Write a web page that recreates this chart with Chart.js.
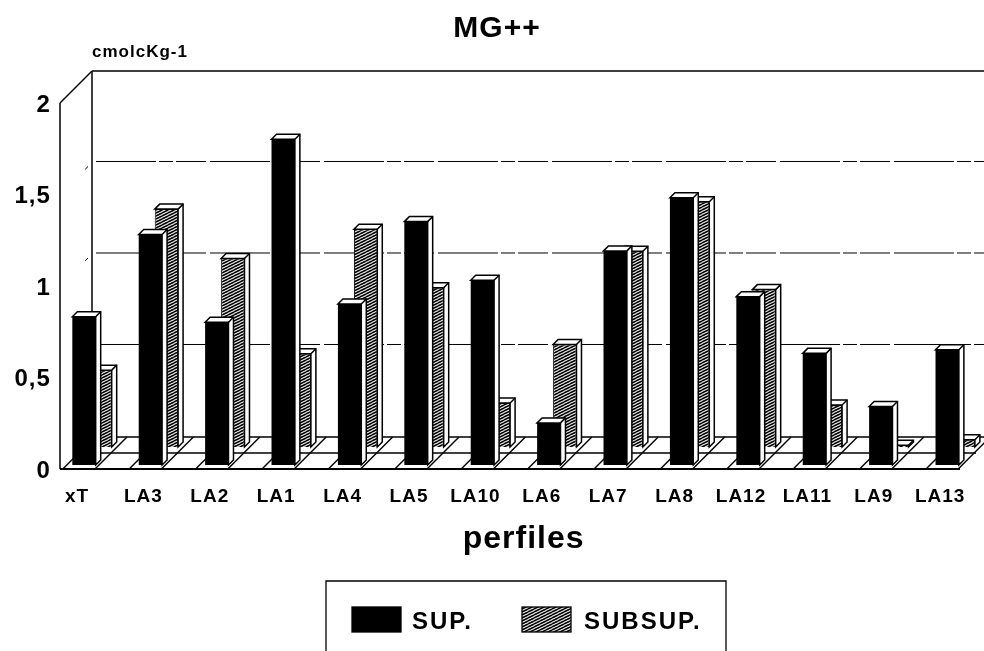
<!DOCTYPE html>
<html>
<head>
<meta charset="utf-8">
<title>MG++</title>
<style>
html, body { margin: 0; padding: 0; background: #fff; overflow: hidden; }
#wrap { width: 984px; height: 651px; overflow: hidden; }
canvas { display: block; }
</style>
<script src="https://cdn.jsdelivr.net/npm/chart.js@4/dist/chart.umd.js"></script>
</head>
<body>
<div id="wrap"><canvas id="mg-chart" width="994" height="651"></canvas></div>
<script>
const perfiles = ['xT', 'LA3', 'LA2', 'LA1', 'LA4', 'LA5', 'LA10', 'LA6', 'LA7', 'LA8', 'LA12', 'LA11', 'LA9', 'LA13'];
const sup = [0.81, 1.26, 0.78, 1.78, 0.88, 1.33, 1.01, 0.23, 1.17, 1.46, 0.92, 0.61, 0.32, 0.63];
const subsup = [0.42, 1.30, 1.03, 0.51, 1.19, 0.87, 0.24, 0.56, 1.07, 1.34, 0.86, 0.23, 0.01, 0.04];
const yTicks = [0, 0.5, 1, 1.5, 2];

const FONT = '"Liberation Sans", Arial, sans-serif';
const DEPTH = 32;       // offset of the back wall
const BAR_DX = 5;
const BAR_DY = 5;

// diagonal hatch for the subsoil bars
function makeHatch() {
    const c = document.createElement('canvas');
    c.width = 6;
    c.height = 3;
    const g = c.getContext('2d');
    g.fillStyle = '#fff';
    g.fillRect(0, 0, 6, 3);
    g.strokeStyle = '#000';
    g.lineWidth = 1.6;
    for (let i = -1; i < 2; i++) {
        g.beginPath();
        g.moveTo(0, 3 * i + 3);
        g.lineTo(6, 3 * i);
        g.stroke();
    }
    return g.createPattern(c, 'repeat');
}
const hatch = makeHatch();

function line(ctx, x1, y1, x2, y2) {
    ctx.beginPath();
    ctx.moveTo(x1, y1);
    ctx.lineTo(x2, y2);
    ctx.stroke();
}

const box3d = {
    id: 'box3d',
    beforeDraw(chart) {
        chart.ctx.letterSpacing = '1px';
    },
    beforeDatasetsDraw(chart) {
        const ctx = chart.ctx;
        const y = chart.scales.y;
        const x = chart.scales.x;
        const front = chart.chartArea.bottom;
        const top = y.getPixelForValue(2) + 4;
        const left = 60;
        const right = 960;
        ctx.save();
        ctx.strokeStyle = '#000';
        ctx.lineWidth = 1.5;

        // walls
        line(ctx, left, top, left + DEPTH, top - DEPTH);
        line(ctx, left, top, left, front);
        line(ctx, left + DEPTH, top - DEPTH, left + DEPTH, front - DEPTH);
        line(ctx, left + DEPTH, top - DEPTH, chart.width, top - DEPTH);

        // floor
        line(ctx, left + DEPTH, front - DEPTH, chart.width, front - DEPTH);
        line(ctx, left + DEPTH / 2, front - DEPTH / 2, right + DEPTH / 2, front - DEPTH / 2);
        ctx.lineWidth = 1.8;
        line(ctx, left, front, right, front);
        ctx.lineWidth = 1.4;
        perfiles.forEach(function (p, i) {
            const c = x.getPixelForValue(i);
            const step = x.getPixelForValue(1) - x.getPixelForValue(0);
            [c - step / 2 + 4, c + 3].forEach(function (px) {
                if (px < right + 2) {
                    line(ctx, px, front, px + DEPTH, front - DEPTH);
                }
            });
        });

        // grid on the back wall, broken like the scan
        ctx.lineWidth = 1;
        ctx.setLineDash([60, 3, 14, 3, 30, 4]);
        yTicks.slice(1, -1).forEach(function (v) {
            const py = y.getPixelForValue(v) + 3 - DEPTH;
            line(ctx, left + DEPTH + 4, py, chart.width, py);
        });
        ctx.setLineDash([4, 60]);
        yTicks.slice(1, -1).forEach(function (v) {
            const py = y.getPixelForValue(v) + 4;
            line(ctx, left + DEPTH - 4, py - DEPTH + 4, left + 4, py - 4);
        });
        ctx.restore();
    },
    beforeDatasetDraw(chart, args) {
        const ctx = chart.ctx;
        const meta = chart.getDatasetMeta(args.index);
        ctx.save();
        ctx.strokeStyle = '#000';
        ctx.fillStyle = '#fff';
        ctx.lineWidth = 1.5;
        meta.data.forEach(function (bar) {
            const l = bar.x - bar.width / 2;
            const r = bar.x + bar.width / 2;
            ctx.beginPath();
            ctx.moveTo(l, bar.y);
            ctx.lineTo(l + BAR_DX, bar.y - BAR_DY);
            ctx.lineTo(r + BAR_DX, bar.y - BAR_DY);
            ctx.lineTo(r + BAR_DX, bar.base - BAR_DY);
            ctx.lineTo(r, bar.base);
            ctx.lineTo(r, bar.y);
            ctx.closePath();
            ctx.fill();
            ctx.stroke();
            line(ctx, r, bar.y, r + BAR_DX, bar.y - BAR_DY);
        });
        ctx.restore();
    },
    afterDraw(chart) {
        const ctx = chart.ctx;
        ctx.save();
        ctx.fillStyle = '#000';
        ctx.strokeStyle = '#000';
        ctx.textBaseline = 'middle';
        ctx.textAlign = 'left';

        ctx.font = 'bold 17px ' + FONT;
        ctx.fillText('cmolcKg-1', 92, 52);

        // legend box, open at the bottom
        ctx.lineWidth = 1.3;
        ctx.beginPath();
        ctx.moveTo(326, chart.height);
        ctx.lineTo(326, 581);
        ctx.lineTo(726, 581);
        ctx.lineTo(726, chart.height);
        ctx.stroke();

        const entries = [[352, 412], [522, 584]];
        ctx.letterSpacing = '2px';
        chart.data.datasets.forEach(function (ds, i) {
            ctx.fillStyle = ds.backgroundColor;
            ctx.fillRect(entries[i][0], 607, 49, 25);
            ctx.strokeRect(entries[i][0], 607, 49, 25);
            ctx.fillStyle = '#000';
            ctx.font = 'bold 24px ' + FONT;
            ctx.fillText(ds.label, entries[i][1], 622);
        });
        ctx.restore();
    }
};

new Chart(document.getElementById('mg-chart'), {
    type: 'bar',
    data: {
        labels: perfiles,
        datasets: [{
            label: 'SUP.',
            data: sup,
            yAxisID: 'y',
            backgroundColor: '#000',
            borderColor: '#000',
            borderWidth: 0
        }, {
            label: 'SUBSUP.',
            data: subsup,
            yAxisID: 'y2',
            backgroundColor: hatch,
            borderColor: '#000',
            borderWidth: 1
        }]
    },
    plugins: [box3d],
    options: {
        responsive: false,
        animation: false,
        layout: { padding: 0 },
        categoryPercentage: 0.482,
        barPercentage: 1.46,
        plugins: {
            legend: { display: false },
            tooltip: { enabled: false },
            title: {
                display: true,
                text: 'MG++',
                color: '#000',
                font: { family: FONT, size: 30, weight: 'bold' },
                padding: { top: 11, bottom: 52 }
            }
        },
        scales: {
            x: {
                grid: { display: false },
                border: { display: false },
                afterFit: function (scale) {
                    scale.height = 182;
                    scale.paddingRight = 5.6;
                },
                ticks: {
                    color: '#000',
                    font: { family: FONT, size: 19, weight: 'bold' },
                    padding: 8,
                    labelOffset: -15,
                    autoSkip: false,
                    maxRotation: 0
                },
                title: {
                    display: true,
                    text: 'perfiles',
                    color: '#000',
                    font: { family: FONT, size: 32, weight: 'bold' },
                    padding: { top: 0, bottom: 93 }
                }
            },
            y: {
                min: -0.0219,
                max: 2,
                grid: { display: false },
                border: { display: false },
                afterFit: function (scale) { scale.width = 58.8; },
                afterBuildTicks: function (scale) {
                    scale.ticks = yTicks.map(function (v) { return { value: v }; });
                },
                ticks: {
                    color: '#000',
                    font: { family: FONT, size: 24, weight: 'bold' },
                    padding: 0,
                    labelOffset: 6,
                    callback: function (v) { return String(v).replace('.', ','); }
                }
            },
            // same scale, floor of the rear row sits higher in the picture
            y2: {
                display: false,
                min: -0.1202,
                max: 1.9016
            }
        }
    }
});
</script>
</body>
</html>
